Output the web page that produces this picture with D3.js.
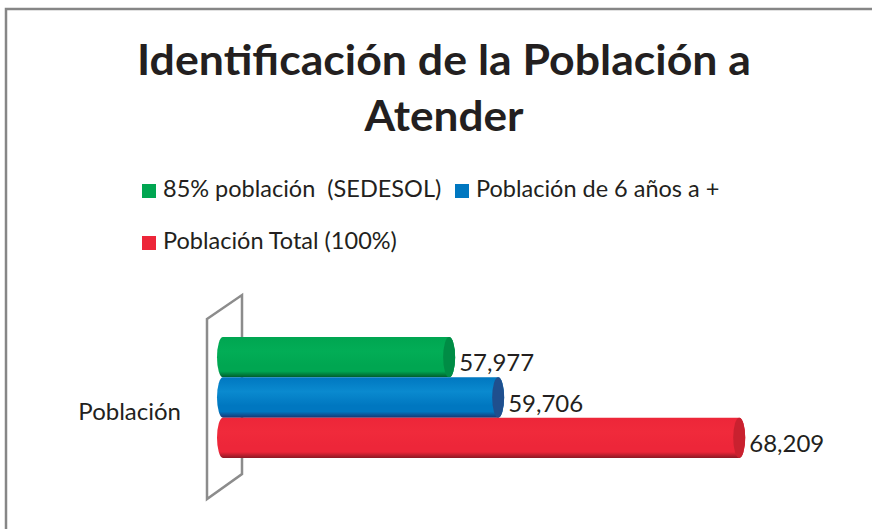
<!DOCTYPE html>
<html>
<head>
<meta charset="utf-8">
<script src="https://cdn.jsdelivr.net/npm/d3@7"></script>
<style>
  html, body { margin: 0; padding: 0; background: #fff; overflow: hidden; }
  text { font-family: Lato, "Open Sans", sans-serif; fill: #231f20; }
</style>
</head>
<body>
<div id="chart"></div>
<script>
// data
var titleLines = ['Identificación de la Población a', 'Atender'];
var categories = ['Población'];
var seriesNames = ['85% población  (SEDESOL)', 'Población de 6 años a +', 'Población Total (100%)'];
var seriesValues = [57977, 59706, 68209];
var axisDomain = [50000, 70000];

// styles
var seriesColors = ['#00a651', '#0077c0', '#ed2639'];
var capColors = ['#008c45', '#1f4f8e', '#c9212f'];
var lightColors = ['#02ad56', '#0a8acf', '#f02a3b'];
var darkColors = ['#005a2b', '#1b3571', '#8e1824'];

var width = 872, height = 529;

var svg = d3.select('#chart').append('svg')
   .attr('width', width)
   .attr('height', height);

var defs = svg.append('defs');

//outer frame (right and bottom edges fall outside the picture)
svg.append('rect')
   .attr('x', 6).attr('y', 9)
   .attr('width', 1000).attr('height', 1000)
   .attr('fill', 'none')
   .attr('stroke', '#868686')
   .attr('stroke-width', 2.5);

//title
svg.append('g').selectAll('text')
   .data(titleLines)
   .enter()
   .append('text')
   .attr('x', 444)
   .attr('y', function (d, i) { return 75 + 56 * i; })
   .attr('text-anchor', 'middle')
   .attr('font-size', '42px')
   .attr('font-weight', 'bold')
   .attr('textLength', function (d, i) { return i == 0 ? 614 : 159; })
   .attr('lengthAdjust', 'spacingAndGlyphs')
   .text(function (d) { return d; });

//legend
var legendPos = [
   {x: 142, y: 183},
   {x: 455, y: 183},
   {x: 142, y: 235}
];
var legend = svg.append('g').selectAll('g')
   .data(seriesNames)
   .enter()
   .append('g')
   .attr('transform', function (d, i) {
      return 'translate(' + legendPos[i].x + ',' + legendPos[i].y + ')';
   });
legend.append('rect')
   .attr('width', 14).attr('height', 14)
   .attr('y', 1)
   .attr('fill', function (d, i) { return seriesColors[i]; });
legend.append('text')
   .attr('x', 21)
   .attr('y', 14)
   .attr('font-size', '23.5px')
   .style('white-space', 'pre')
   .text(function (d) { return d; });

//scales
var x = d3.scaleLinear().domain(axisDomain).range([223, 790]);
var y = d3.scaleBand().domain(seriesNames).range([337, 458]).padding(0);
var bh = y.bandwidth();
var rx = 6;

//back wall (3d plane behind the bars)
var wallTop = y.range()[0], wallBottom = y.range()[1];
svg.append('path')
   .attr('d', 'M207,' + (wallTop - 18) + 'L242,' + (wallTop - 42) +
      'L242,' + (wallBottom + 16) + 'L207,' + (wallBottom + 41) + 'Z')
   .attr('fill', 'none')
   .attr('stroke', '#8c8c8c')
   .attr('stroke-width', 2.5);

//gradients for cylinder shading
seriesNames.forEach(function (s, i) {
   var g = defs.append('linearGradient')
      .attr('id', 'grad' + i)
      .attr('x1', 0).attr('y1', 0).attr('x2', 0).attr('y2', 1);
   g.append('stop').attr('offset', '0').attr('stop-color', seriesColors[i]);
   g.append('stop').attr('offset', '0.35').attr('stop-color', lightColors[i]);
   g.append('stop').attr('offset', '0.7').attr('stop-color', seriesColors[i]);
   g.append('stop').attr('offset', '0.85').attr('stop-color', seriesColors[i]);
   g.append('stop').attr('offset', '1').attr('stop-color', darkColors[i]);
});

var bars = svg.append('g').selectAll('g')
   .data(seriesValues)
   .enter()
   .append('g');

//cylinder body
bars.append('path')
   .attr('d', function (d, i) {
      var x0 = x(axisDomain[0]), x1 = x(d);
      var top = y(seriesNames[i]), bot = top + bh;
      return 'M' + x0 + ',' + top + 'L' + x1 + ',' + top +
         'A' + rx + ',' + (bh / 2) + ' 0 0 1 ' + x1 + ',' + bot +
         'L' + x0 + ',' + bot +
         'A' + rx + ',' + (bh / 2) + ' 0 0 1 ' + x0 + ',' + top + 'Z';
   })
   .attr('fill', function (d, i) { return 'url(#grad' + i + ')'; });

//end cap
bars.append('ellipse')
   .attr('cx', function (d) { return x(d); })
   .attr('cy', function (d, i) { return y(seriesNames[i]) + bh / 2; })
   .attr('rx', rx)
   .attr('ry', bh / 2)
   .attr('fill', function (d, i) { return capColors[i]; });

//value labels
bars.append('text')
   .attr('x', function (d) { return x(d) + rx + 4; })
   .attr('y', function (d, i) { return y(seriesNames[i]) + bh - 6; })
   .attr('font-size', '24px')
   .text(function (d) { return d3.format(',')(d); });

//category label
svg.append('g').selectAll('text')
   .data(categories)
   .enter()
   .append('text')
   .attr('x', 181)
   .attr('y', 420)
   .attr('text-anchor', 'end')
   .attr('font-size', '24px')
   .text(function (d) { return d; });
</script>
</body>
</html>
